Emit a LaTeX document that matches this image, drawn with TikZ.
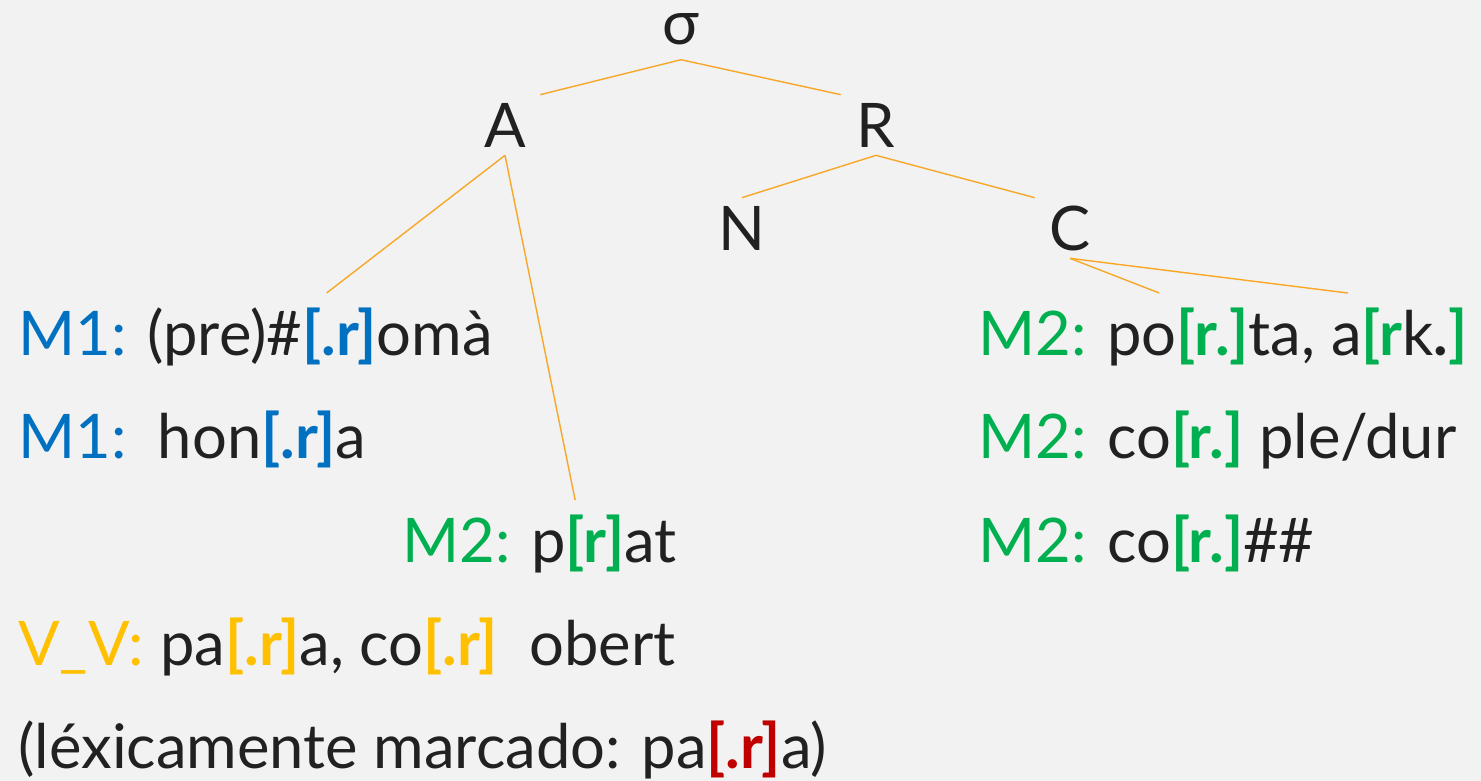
\documentclass[tikz,border=0pt]{standalone}
\usepackage{fontspec}
\setmainfont{Lato}
\usetikzlibrary{calc}
\definecolor{bgGray}{RGB}{242,242,242}
\definecolor{textBlack}{RGB}{33,33,33}
\definecolor{treeOrange}{RGB}{247,168,40}
\definecolor{mOneBlue}{RGB}{0,112,192}
\definecolor{mTwoGreen}{RGB}{0,176,80}
\definecolor{vvYellow}{RGB}{255,192,0}
\definecolor{lexRed}{RGB}{192,0,0}
\newcommand{\seg}[2]{\textcolor{#1}{\textbf{[#2]}}}
\tikzset{
    treeLabel/.style={
        inner sep=0pt,
        minimum width=1.4cm,
        minimum height=1.2cm,
        text=textBlack,
        font=\fontsize{35}{40}\selectfont
    },
    rootLabel/.style={
        treeLabel,
        minimum height=0.6cm,
        outer ysep=0.3cm
    },
    example/.style={
        inner xsep=0pt,
        inner ysep=8pt,
        anchor=base west,
        text=textBlack,
        font=\fontsize{35}{40}\selectfont
    },
    branch/.style={
        draw=treeOrange,
        line width=0.8pt
    }
}

\begin{document}
\begin{tikzpicture}[x=0.02cm, y=-0.02cm]
    \useasboundingbox (0,0) rectangle (1481,781);
    \fill[bgGray] (0,0) rectangle (1481,781);

    % Syllable tree
    \node[rootLabel] (sigma) at (681,29) {σ};
    \node[treeLabel] (A) at (505,125) {A};
    \node[treeLabel] (R) at (876,125) {R};
    \node[treeLabel] (N) at (742,228) {N};
    \node[treeLabel] (C) at (1070,228) {C};

    % Onset examples
    \node[example] (m1a) at (18,355) {\textcolor{mOneBlue}{M1:} (pre)\#\seg{mOneBlue}{.r}omà};
    \node[example] (m1b) at (18,458) {\textcolor{mOneBlue}{M1:}\ \ hon\seg{mOneBlue}{.r}a};
    \node[example] (m2p) at (402,562) {\textcolor{mTwoGreen}{M2:} p\seg{mTwoGreen}{r}at};
    \node[example] (vv) at (18,665) {\textcolor{vvYellow}{V\_V:} pa\seg{vvYellow}{.r}a, co\seg{vvYellow}{.r}\ \ obert};
    \node[example] (lex) at (18,768) {(léxicamente marcado: pa\seg{lexRed}{.r}a)};

    % Coda examples
    \node[example] (m2a) at (978,355) {\textcolor{mTwoGreen}{M2:} po\seg{mTwoGreen}{r.}ta, a\textcolor{mTwoGreen}{\textbf{[r}}k\textbf{.}\textcolor{mTwoGreen}{\textbf{]}}};
    \node[example] (m2b) at (978,458) {\textcolor{mTwoGreen}{M2:} co\seg{mTwoGreen}{r.}\ ple/dur};
    \node[example] (m2c) at (978,562) {\textcolor{mTwoGreen}{M2:} co\seg{mTwoGreen}{r.}\#\#};

    % Branches
    \draw[branch] (sigma.south) -- (A.north east);
    \draw[branch] (sigma.south) -- (R.north west);
    \draw[branch] (A.south) -- ($(m1a.north west)!0.65!(m1a.north east)$);
    \draw[branch] (A.south) -- ($(m2p.north west)!0.63!(m2p.north east)$);
    \draw[branch] (R.south) -- (N.north);
    \draw[branch] (R.south) -- (C.north west);
    \draw[branch] (C.south) -- ($(m2a.north west)!0.37!(m2a.north east)$);
    \draw[branch] (C.south) -- ($(m2a.north west)!0.755!(m2a.north east)$);
\end{tikzpicture}
\end{document}
